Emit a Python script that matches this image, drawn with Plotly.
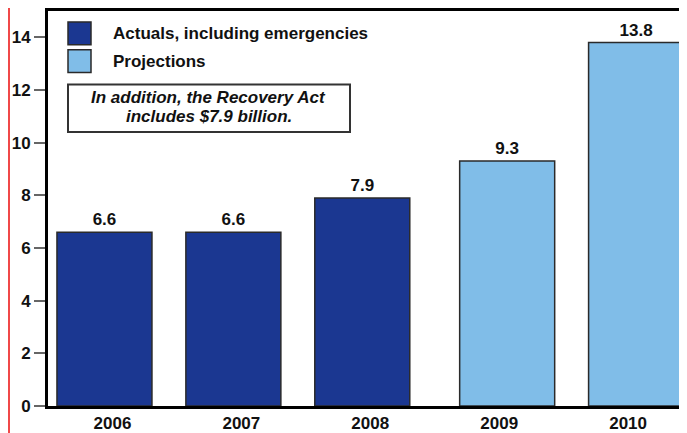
import plotly.graph_objects as go

# ---- data ----
years = ["2006", "2007", "2008", "2009", "2010"]
actual_years = ["2006", "2007", "2008"]
actual_values = [6.6, 6.6, 7.9]
projection_years = ["2009", "2010"]
projection_values = [9.3, 13.8]
y_ticks = [0, 2, 4, 6, 8, 10, 12, 14]
legend_labels = ["Actuals, including emergencies", "Projections"]
note_lines = ["In addition, the Recovery Act", "includes $7.9 billion."]

# ---- style ----
DARK = "#1B3791"
LIGHT = "#80BDE8"
EDGE = "#2a2a2a"
FONT = "Liberation Sans"
FS = 17
BAR_W = 0.737
SHIFT = 0.062

fig = go.Figure()
fig.add_trace(go.Bar(
    x=actual_years, y=actual_values, name=legend_labels[0],
    marker=dict(color=DARK, line=dict(color=EDGE, width=1.5)),
    width=BAR_W, offset=-BAR_W / 2 - SHIFT,
    text=actual_values, texttemplate="%{y:.1f}", textposition="outside",
    textfont=dict(family=FONT, size=FS, color="#111", weight="bold"),
    cliponaxis=False, showlegend=False,
))
fig.add_trace(go.Bar(
    x=projection_years, y=projection_values, name=legend_labels[1],
    marker=dict(color=LIGHT, line=dict(color=EDGE, width=1.5)),
    width=BAR_W, offset=-BAR_W / 2 + SHIFT,
    text=projection_values, texttemplate="%{y:.1f}", textposition="outside",
    textfont=dict(family=FONT, size=FS, color="#111", weight="bold"),
    cliponaxis=False, showlegend=False,
))

# page has an 8px body margin; figure is sized to fit the 687x433 window
OFF = 8
W, H = 687 - OFF, 433 - OFF
ML, MR, MT, MB = 40, 0, 1, 26
PW, PH = W - ML - MR, H - MT - MB


def px(x):
    """page pixel x -> paper"""
    return (x - OFF - ML) / PW


def py(y):
    """page pixel y -> paper"""
    return (H - MB - (y - OFF)) / PH


shapes = []
annotations = []
# red left edge line
shapes.append(dict(type="line", xref="paper", yref="paper",
                   x0=px(9), x1=px(9), y0=-0.2, y1=1.2,
                   line=dict(color="#F04848", width=2)))
# legend squares
for i, (col, lab) in enumerate(zip([DARK, LIGHT], legend_labels)):
    top = 20 + i * 28
    shapes.append(dict(type="rect", xref="paper", yref="paper",
                       x0=px(68), x1=px(91), y0=py(top + 23), y1=py(top),
                       fillcolor=col, line=dict(color=EDGE, width=1.5)))
    annotations.append(dict(xref="paper", yref="paper", x=px(111), y=py(top + 12),
                            xanchor="left", yanchor="middle", showarrow=False,
                            text=lab,
                            font=dict(family=FONT, size=FS, color="#111", weight="bold")))
# note box
shapes.append(dict(type="rect", xref="paper", yref="paper",
                   x0=px(68), x1=px(350), y0=py(131), y1=py(83),
                   fillcolor="white", line=dict(color="#333", width=2)))
for j, line in enumerate(note_lines):
    annotations.append(dict(xref="paper", yref="paper", x=px(209), y=py(96 + j * 19),
                            xanchor="center", yanchor="middle", showarrow=False,
                            text="<i>" + line + "</i>",
                            font=dict(family=FONT, size=FS, color="#111", weight="bold")))

fig.update_layout(
    width=W, height=H,
    margin=dict(l=ML, r=MR, t=MT, b=MB, pad=0),
    paper_bgcolor="white", plot_bgcolor="white",
    barmode="overlay",
    shapes=shapes, annotations=annotations,
    xaxis=dict(type="category", categoryorder="array", categoryarray=years,
               range=[-0.5, 4.457], showgrid=False, zeroline=False,
               showline=True, linecolor="black", linewidth=3, mirror=True,
               ticks="", tickfont=dict(family=FONT, size=FS, color="#111", weight="bold")),
    yaxis=dict(range=[0, 15], tickvals=y_ticks, showgrid=False, zeroline=False,
               showline=True, linecolor="black", linewidth=3,
               ticks="outside", ticklen=11, tickwidth=1.5, tickcolor="#666",
               tickfont=dict(family=FONT, size=FS, color="#111", weight="bold")),
)

fig.write_html("out.html")
